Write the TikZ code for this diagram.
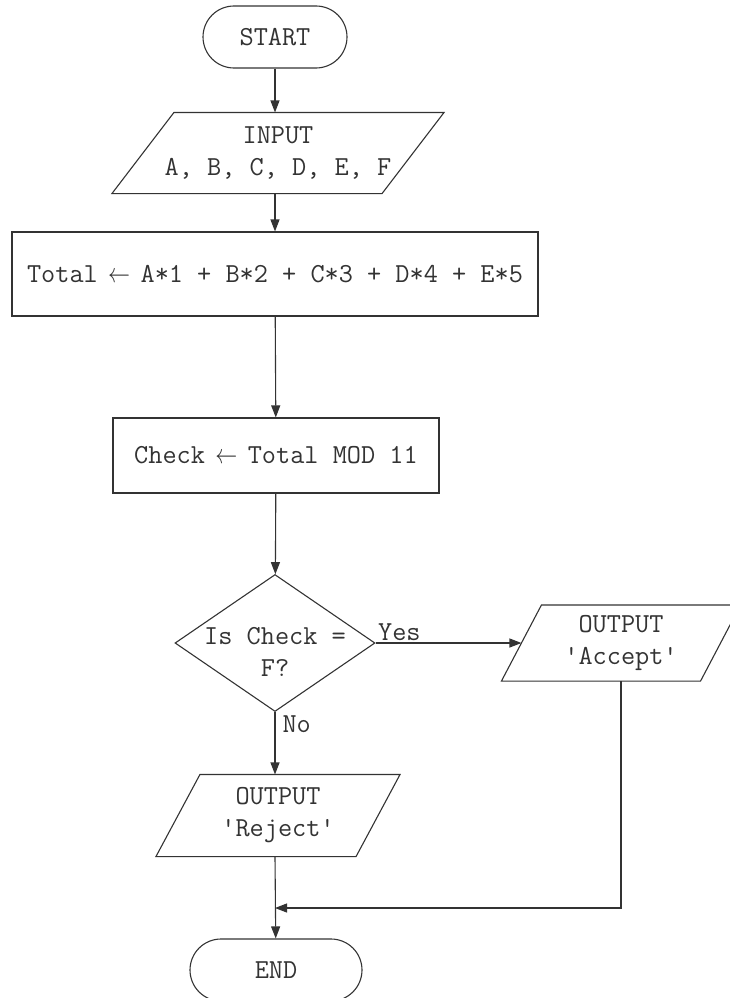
\documentclass[tikz,border=0pt]{standalone}
\usepackage{fix-cm}
\usepackage{graphicx}
\usepackage{fontspec}
\usetikzlibrary{arrows.meta,shapes.geometric}
\tikzset{
  chart/.style={font=\fontsize{27.5}{32}\selectfont\ttfamily, color=black!80, line width=1.1pt},
  term/.style={draw, rounded corners=31pt, minimum height=62pt, inner sep=0pt},
  proc/.style={draw, inner sep=0pt},
  io/.style={inner sep=0pt, align=center},
  dec/.style={draw, diamond, inner sep=0pt, minimum width=200pt, minimum height=137pt},
  flow/.style={-{Triangle[length=12pt,width=9pt]}}
}
\def\arr{\makebox[0.525em]{\scalebox{0.8}[1]{$\leftarrow$}}}
\def\qmark{\textquotesingle}
\begin{document}
\begin{tikzpicture}[x=1pt,y=-1pt,chart]
\useasboundingbox (0,0) rectangle (730,998);
% parallelogram: name, x, y, width, height, slant, text
\def\io#1#2#3#4#5#6#7{
\node [io, minimum width=#4pt, minimum height=#5pt] (#1) at (#2,#3) {#7};
\draw ([xshift=-#6pt/2]#1.south west) -- ([xshift=-#6pt/2]#1.south east)
  -- ([xshift=#6pt/2]#1.north east) -- ([xshift=#6pt/2]#1.north west) -- cycle;
}
\node [term, minimum width=144pt] (start) at (275,37) {START};
\io{inp}{278}{153}{269}{80}{62}{INPUT\\A, B, C, D, E, F}
\node [proc, minimum width=526pt, minimum height=84pt] (total) at (275,274)
  {Total \arr{} A*1 + B*2 + C*3 + D*4 + E*5};
\node [proc, minimum width=326pt, minimum height=75pt] (check) at (276,455.5)
  {Check \arr{} Total MOD 11};
\node [dec] (dec) at (275,643) {};
\node [io] (dect) at (275,652) {Is Check =\\F?};
\io{acc}{621}{643}{198}{75}{40}{OUTPUT\\\qmark Accept\qmark}
\io{rej}{278}{815.5}{199}{81}{44}{OUTPUT\\\qmark Reject\qmark}
\node [term, minimum width=172pt] (stop) at (276,970) {END};
\coordinate (join) at (275,908);
% connectors
\draw [flow] (start) -- (start |- inp.north);
\draw [flow] (inp.south -| start) -- (total);
\draw [flow] (total) -- (check);
\draw [flow] (check) -- (dec);
\draw [flow] (dec.east) -- (acc.west);
\draw [flow] (dec) -- (dec |- rej.north);
\draw [flow] (rej.south -| dec) -- (stop);
\draw [flow] (acc.south) |- (join);
\node [anchor=south west, inner sep=2pt] (yes) at (dec.east) {Yes};
\node [anchor=north west, inner sep=3pt, xshift=4pt] (no) at (dec.south) {No};
\end{tikzpicture}
\end{document}
